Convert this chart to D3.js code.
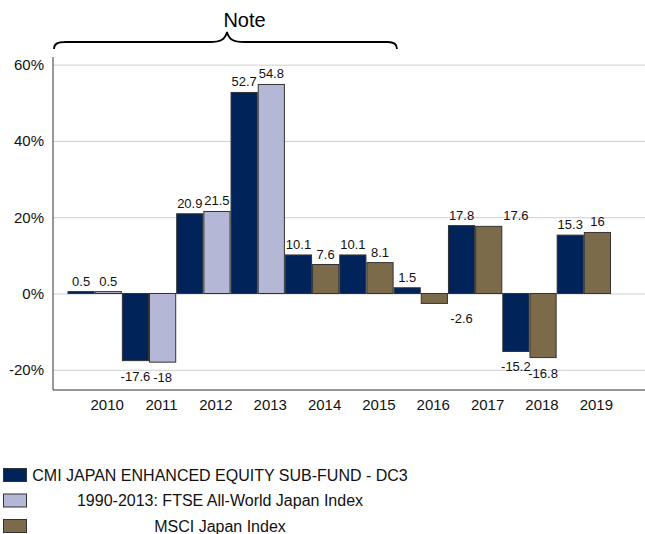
<!DOCTYPE html>
<html>
<head>
<meta charset="utf-8">
<script src="https://cdn.jsdelivr.net/npm/d3@7"></script>
<style>
  body { margin: 0; background: #fff; }
  svg { font-family: 'Liberation Sans', Arial, sans-serif; }
</style>
</head>
<body>
<div id="chart"></div>
<script>
const years = ['2010', '2011', '2012', '2013', '2014', '2015', '2016', '2017', '2018', '2019']
const fund = [0.5, -17.6, 20.9, 52.7, 10.1, 10.1, 1.5, 17.8, -15.2, 15.3]
const benchmark = [0.5, -18, 21.5, 54.8, 7.6, 8.1, -2.6, 17.6, -16.8, 16]
const benchmarkIndex = ['ftse', 'ftse', 'ftse', 'ftse', 'msci', 'msci', 'msci', 'msci', 'msci', 'msci']
const yTicks = [-20, 0, 20, 40, 60]
const legendNames = [
  'CMI JAPAN ENHANCED EQUITY SUB-FUND - DC3',
  '1990-2013:  FTSE All-World Japan Index',
  'MSCI Japan Index'
]

const colors = { fund: '#00235a', ftse: '#b4b8d6', msci: '#7b6b4b' }

// the source chart draws two of its labels one bar to the right
const labelNudge = { '2016': 1, '2017': 1 }

const width = 645
const height = 534

const svg = d3.select('#chart')
  .append('svg')
  .attr('width', width)
  .attr('height', height)

const x = d3.scaleBand().domain(years).range([67.5, 611]).padding(0)
const x1 = d3.scaleBand().domain(['fund', 'bench']).range([0, x.bandwidth()])
const y = d3.scaleLinear().domain([-25.3, 62]).range([390, 57])

// gridlines + y labels
const yAxis = svg.append('g')
  .attr('transform', 'translate(53,0)')
  .call(d3.axisLeft(y)
    .tickValues(yTicks)
    .tickSize(-(width - 53))
    .tickSizeOuter(0)
    .tickPadding(9)
    .tickFormat((d) => d + '%'))
yAxis.select('.domain').remove()
yAxis.selectAll('.tick line').attr('stroke', '#cfcfcf')
yAxis.selectAll('.tick text')
  .attr('fill', '#111')
  .style('font-size', '15px')

// axis lines
svg.append('line')
  .attr('x1', 53).attr('x2', 53)
  .attr('y1', 57).attr('y2', 390)
  .attr('stroke', '#333')
svg.append('line')
  .attr('x1', 53).attr('x2', width)
  .attr('y1', 390).attr('y2', 390)
  .attr('stroke', '#333')

// x labels
const xAxis = svg.append('g')
  .attr('transform', 'translate(0,390)')
  .call(d3.axisBottom(x).tickSize(0).tickPadding(9))
xAxis.select('.domain').remove()
xAxis.selectAll('.tick text')
  .attr('dx', 12.5)
  .attr('fill', '#111')
  .style('font-size', '15px')

const rows = years.map((yr, i) => ({ year: yr, fund: fund[i], bench: benchmark[i], idx: benchmarkIndex[i] }))
const bars = []
rows.forEach((r) => {
  bars.push({ year: r.year, key: 'fund', value: r.fund, color: colors.fund })
  bars.push({ year: r.year, key: 'bench', value: r.bench, color: colors[r.idx] })
})

svg.append('g')
  .selectAll('rect')
  .data(bars)
  .join('rect')
  .attr('x', (d) => x(d.year) + x1(d.key) + 0.5)
  .attr('width', x1.bandwidth() - 1)
  .attr('y', (d) => y(Math.max(0, d.value)))
  .attr('height', (d) => Math.abs(y(d.value) - y(0)))
  .attr('fill', (d) => d.color)
  .attr('stroke', '#333')
  .attr('stroke-width', 1)

svg.append('g')
  .selectAll('text')
  .data(bars)
  .join('text')
  .attr('x', (d) => {
    const shift = d.key === 'bench' && labelNudge[d.year] ? labelNudge[d.year] * x1.bandwidth() : 0
    return x(d.year) + x1(d.key) + x1.bandwidth() / 2 + shift
  })
  .attr('y', (d) => d.value >= 0 ? y(d.value) - 6 : y(d.value) + 20)
  .attr('text-anchor', 'middle')
  .attr('fill', '#111')
  .style('font-size', '13px')
  .text((d) => d.value)

// brace + note
svg.append('path')
  .attr('d', 'M54,49 C54,44 57,42 66,42 L210,42 C220,42 225,40 227,32 C229,40 234,42 244,42 L388,42 C394,42 397,44 397,49')
  .attr('fill', 'none')
  .attr('stroke', '#000')
  .attr('stroke-width', 1.8)
svg.append('text')
  .attr('x', 244.5)
  .attr('y', 27)
  .attr('text-anchor', 'middle')
  .style('font-size', '20px')
  .text('Note')

// legend
const legendColors = [colors.fund, colors.ftse, colors.msci]
const legend = svg.append('g')
  .selectAll('g')
  .data(legendNames)
  .join('g')
  .attr('transform', (d, i) => `translate(0,${468 + i * 25.5})`)
legend.append('rect')
  .attr('x', 3.5)
  .attr('y', 0.5)
  .attr('width', 23)
  .attr('height', 13)
  .attr('fill', (d, i) => legendColors[i])
  .attr('stroke', '#333')
legend.append('text')
  .attr('x', 220)
  .attr('y', 12.5)
  .attr('text-anchor', 'middle')
  .attr('fill', '#111')
  .style('font-size', '16px')
  .text((d) => d)
</script>
</body>
</html>
